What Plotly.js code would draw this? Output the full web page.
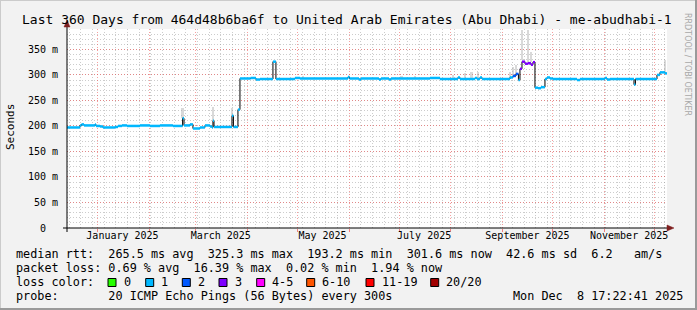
<!DOCTYPE html>
<html><head><meta charset="utf-8">
<script src="https://cdn.plot.ly/plotly-3.0.1.min.js"></script>
<style>html,body{margin:0;padding:0;background:#f2f2f2;}#chart{width:697px;height:310px;}</style>
</head><body><div id="chart"></div>
<script>
// ---- data ----
const medDates = ["2024-12-13 17:00","2024-12-21 12:00","2024-12-22 10:00","2024-12-23 22:00","2024-12-30 12:00","2024-12-31 02:00","2025-01-02 12:00","2025-01-04 07:00","2025-01-11 12:00","2025-01-13 07:00","2025-01-15 17:00","2025-01-18 17:00","2025-01-26 12:00","2025-02-01 12:00","2025-02-07 12:00","2025-02-15 07:00","2025-02-21 02:00","2025-02-21 22:00","2025-02-25 12:00","2025-02-27 07:00","2025-03-03 12:00","2025-03-06 12:00","2025-03-09 12:00","2025-03-10 17:00","2025-03-11 07:00","2025-03-11 22:00","2025-03-22 17:00","2025-03-23 14:00","2025-03-26 07:00","2025-03-27 12:00","2025-04-02 22:00","2025-04-06 02:00","2025-04-08 12:00","2025-04-16 07:00","2025-04-18 02:00","2025-04-29 12:00","2025-05-02 12:00","2025-05-31 07:00","2025-06-01 05:00","2025-06-06 22:00","2025-06-08 02:00","2025-06-18 22:00","2025-06-20 02:00","2025-06-24 22:00","2025-06-26 02:00","2025-07-19 12:00","2025-07-25 12:00","2025-08-05 07:00","2025-08-06 12:00","2025-08-15 12:00","2025-08-16 17:00","2025-08-18 12:00","2025-08-19 17:00","2025-09-05 12:00","2025-09-07 07:00","2025-09-09 02:00","2025-09-10 14:00","2025-09-11 12:00","2025-09-12 17:00","2025-09-14 12:00","2025-09-16 07:00","2025-09-18 02:00","2025-09-19 07:00","2025-09-20 12:00","2025-09-22 07:00","2025-09-24 02:00","2025-09-26 12:00","2025-09-27 17:00","2025-09-29 12:00","2025-10-01 07:00","2025-10-15 17:00","2025-10-17 12:00","2025-11-01 12:00","2025-11-02 17:00","2025-11-04 12:00","2025-11-18 22:00","2025-11-19 19:00","2025-12-02 17:00","2025-12-04 12:00","2025-12-06 07:00","2025-12-07 12:00","2025-12-08 17:00"];
const medValues = [197,201,203,201,203,200,199,197,198,200,201,200,201,200,201,200,215,201,203,195,197,201,199,197,210,198,220,198,232,293,294,291,292,326,292,294,293,296,293,291,293,291,293,291,293,294,292,295,292,294,292,295,292,295,298,302,290,312,326,322,323,320,325,275,274,276,292,295,293,292,290,292,294,291,292,281,292,300,305,305,303,302];
const lossClass = [1,1,1,1,1,1,1,1,1,1,1,1,1,1,1,1,1,1,1,1,1,1,1,1,1,1,1,1,1,1,1,1,1,1,1,1,1,1,1,1,1,1,1,1,1,1,1,1,1,1,1,1,1,1,2,2,1,3,3,3,3,3,3,1,1,1,1,1,1,1,1,1,1,1,1,1,1,1,1,1,1,1];

const smokeDates = ["2025-02-21 02:00","2025-03-11 07:00","2025-03-22 17:00","2025-05-04 12:00","2025-07-02 12:00","2025-07-10 12:00","2025-08-02 12:00","2025-08-09 12:00","2025-08-13 12:00","2025-08-17 12:00","2025-09-05 12:00","2025-09-07 07:00","2025-09-09 02:00","2025-09-12 17:00","2025-09-16 07:00","2025-09-18 02:00","2025-12-07 12:00"];
const smokeLo = [215,210,220,293,293,293,292,292,292,292,292,295,298,330,326,325,305];
const smokeHi = [235,237,235,298,297,298,300,303,305,306,305,315,320,388,388,345,330];

const xStart = "2024-12-13 17:22", xEnd = "2025-12-08 17:22";
const monthLabels = ["January 2025","March 2025","May 2025","July 2025","September 2025","November 2025"];
const monthLabelDates = ["2025-01-16","2025-03-16","2025-05-16","2025-07-16","2025-09-16","2025-11-16"];
const yTickVals = [0,50,100,150,200,250,300,350];
const yTickText = ["0\u00a0\u00a0","50 m","100 m","150 m","200 m","250 m","300 m","350 m"];

const lossNames = ["0","1","2","3","4-5","6-10","11-19","20/20"];
const lossColors = ["#26ff00","#00b8ff","#0059ff","#7e00ff","#ff00ff","#ff5500","#ff0000","#a10000"];

const title = "Last 360 Days from 464d48b6ba6f to United Arab Emirates (Abu Dhabi) - me-abudhabi-1";
const row1 = "median rtt:  265.5 ms avg  325.3 ms max  193.2 ms min  301.6 ms now  42.6 ms sd  6.2   am/s";
const row2 = "packet loss: 0.69 % avg  16.39 % max  0.02 % min  1.94 % now";
const row3 = "loss color:";
const row4 = "probe:       20 ICMP Echo Pings (56 Bytes) every 300s";
const stamp = "Mon Dec  8 17:22:41 2025";

// ---- geometry helpers (pixel -> paper) ----
const PL = 67, PR = 667, PT = 29, PB = 228;
const px = x => (x - PL) / (PR - PL);
const py = y => (PB - y) / (PB - PT);
const nb = s => s.replace(/ /g, "\u00a0");
const MONO = "DejaVu Sans Mono";

// ---- traces ----
const traces = [];
traces.push({
  type: "bar", x: smokeDates, base: smokeLo,
  y: smokeHi.map((h, i) => h - smokeLo[i]),
  width: 1.4 * 86400000,
  marker: {color: "rgba(170,170,170,0.45)", line: {width: 0}},
  hoverinfo: "skip", showlegend: false
});
traces.push({
  type: "scatter", mode: "lines", x: medDates, y: medValues,
  line: {color: "#000000", width: 1, shape: "hv"},
  hoverinfo: "skip", showlegend: false
});
for (let c = 0; c < lossColors.length; c++) {
  const xs = [], ys = [];
  for (let i = 0; i < medDates.length - 1; i++) {
    if (lossClass[i] !== c) continue;
    xs.push(medDates[i], medDates[i + 1], null);
    ys.push(medValues[i], medValues[i], null);
  }
  if (!xs.length) continue;
  traces.push({
    type: "scatter", mode: "lines", x: xs, y: ys,
    line: {color: lossColors[c], width: 2.5},
    connectgaps: false, hoverinfo: "skip", showlegend: false
  });
}
traces.push({type: "scatter", x: [], y: [], xaxis: "x2", showlegend: false});

// ---- shapes ----
const shapes = [];
const pline = (x0, y0, x1, y1, color, w) => shapes.push({type: "line", xref: "paper", yref: "paper",
  x0: px(x0), y0: py(y0), x1: px(x1), y1: py(y1), line: {color: color, width: w}});
// frame shading
pline(0, 0.5, 697, 0.5, "#cbcbcb", 1);
pline(0.5, 0, 0.5, 310, "#cbcbcb", 1);
pline(0, 309, 697, 309, "#9a9a9a", 2);
pline(696, 0, 696, 310, "#9a9a9a", 2);
// axes
pline(67, 232, 67, 23, "#000000", 1);
pline(63, 228, 669, 228, "#000000", 1);
shapes.push({type: "path", xref: "paper", yref: "paper",
  path: `M${px(67)},${py(20)} L${px(64)},${py(27)} L${px(70)},${py(27)} Z`,
  fillcolor: "#7f1f1f", line: {color: "#7f1f1f", width: 0.5}});
shapes.push({type: "path", xref: "paper", yref: "paper",
  path: `M${px(674)},${py(228)} L${px(667)},${py(225)} L${px(667)},${py(231)} Z`,
  fillcolor: "#7f1f1f", line: {color: "#7f1f1f", width: 0.5}});

// loss colour boxes
const boxLeft = [108, 145.7, 182.3, 219, 256.7, 306.7, 366, 430.7];
const annotations = [];
for (let i = 0; i < lossNames.length; i++) {
  shapes.push({type: "rect", xref: "paper", yref: "paper",
    x0: px(boxLeft[i]), x1: px(boxLeft[i] + 8), y0: py(278.5), y1: py(286.5),
    fillcolor: lossColors[i], line: {color: "#000000", width: 1}});
  annotations.push({xref: "paper", yref: "paper", x: px(boxLeft[i] + 13.5), y: py(282),
    xanchor: "left", yanchor: "middle", showarrow: false, text: nb(lossNames[i]),
    font: {family: MONO, size: 11.8, color: "#000"}});
}

const txt = (s, x, y, opts) => annotations.push(Object.assign({xref: "paper", yref: "paper",
  x: px(x), y: py(y), xanchor: "left", yanchor: "middle", showarrow: false, text: nb(s),
  font: {family: MONO, size: 11.8, color: "#000"}}, opts || {}));

txt(title, 347, 20, {xanchor: "center", font: {family: MONO, size: 13, color: "#000"}});
txt("Seconds", 10, 127, {xanchor: "center", textangle: -90, font: {family: MONO, size: 11, color: "#000"}});
txt("RRDTOOL / TOBI OETIKER", 688, 64, {xanchor: "center", textangle: 90, font: {family: "DejaVu Sans", size: 8, color: "#a8a8a8"}});
txt(row1, 14, 254);
txt(row2, 14, 268);
txt(row3, 14, 282);
txt(row4, 14, 296);
txt(stamp, 511, 296);

const gridDash = "1px,2px";
const layout = {
  width: 697, height: 310,
  margin: {l: 67, r: 30, t: 29, b: 82, pad: 0},
  paper_bgcolor: "#f2f2f2", plot_bgcolor: "#ffffff",
  showlegend: false, hovermode: false, bargap: 0,
  xaxis: {
    type: "date", range: [xStart, xEnd], fixedrange: true,
    tickmode: "linear", tick0: "2025-01-01", dtick: "M1",
    showticklabels: false, ticks: "outside", ticklen: 3, tickcolor: "rgba(240,80,80,0.7)",
    showgrid: true, gridcolor: "rgba(240,80,80,0.55)", griddash: gridDash, gridwidth: 1,
    minor: {tickmode: "linear", tick0: "2024-12-22", dtick: 7 * 86400000, showgrid: true,
            gridcolor: "rgba(143,143,143,0.45)", griddash: gridDash, gridwidth: 1},
    zeroline: false, showline: false
  },
  xaxis2: {
    type: "date", range: [xStart, xEnd], overlaying: "x", anchor: "y", side: "bottom",
    fixedrange: true, tickmode: "array", tickvals: monthLabelDates, ticktext: monthLabels,
    showgrid: false, zeroline: false, showline: false, ticks: "",
    tickfont: {family: MONO, size: 10, color: "#000"}, ticklabelstandoff: 0
  },
  yaxis: {
    range: [0, 390], fixedrange: true,
    tickmode: "array", tickvals: yTickVals, ticktext: yTickText,
    showgrid: true, gridcolor: "rgba(240,80,80,0.55)", griddash: gridDash, gridwidth: 1,
    minor: {tickmode: "linear", tick0: 0, dtick: 10, showgrid: true,
            gridcolor: "rgba(143,143,143,0.45)", griddash: gridDash, gridwidth: 1},
    zeroline: false, showline: false, ticks: "",
    tickfont: {family: MONO, size: 10, color: "#000"}, ticklabelstandoff: 8
  },
  shapes: shapes,
  annotations: annotations
};

Plotly.newPlot("chart", traces, layout, {staticPlot: true, displayModeBar: false});
</script>
</body></html>
